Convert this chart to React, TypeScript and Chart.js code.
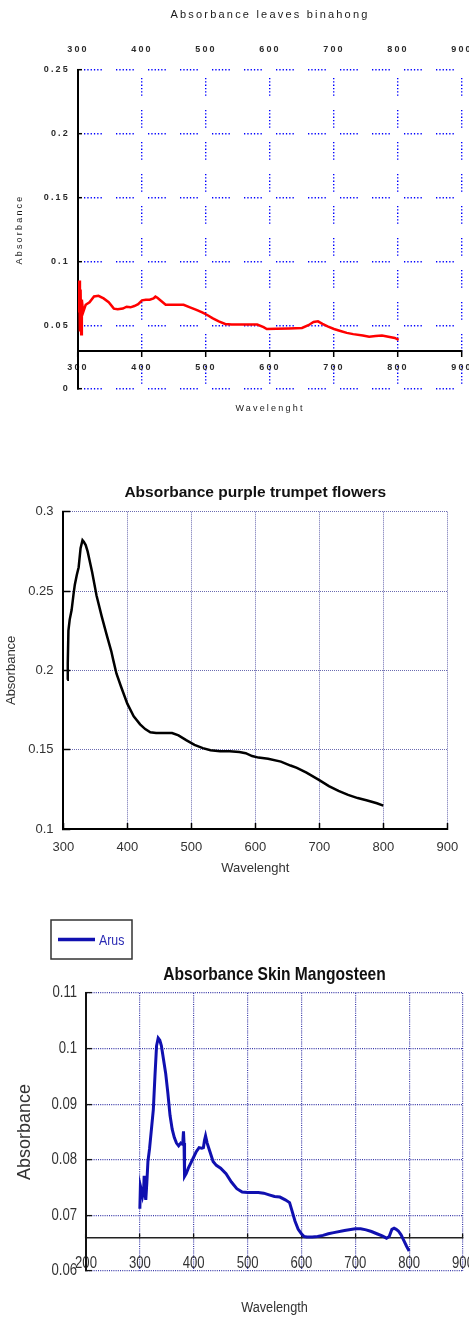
import React, { useEffect, useRef } from "react";
import { Chart, registerables } from "chart.js";

Chart.register(...registerables);

// ---------- Chart 1: Absorbance leaves binahong ----------
const BINAHONG_TITLE = "Absorbance leaves binahong";
const BINAHONG_WL = [301, 302, 303, 304, 305, 306, 308, 312, 318, 325, 332, 340, 348, 356, 362, 370, 376, 382, 388, 394, 400, 406, 412, 418, 421, 424, 430, 437, 450, 465, 475, 485, 494, 502, 510, 520, 530, 540, 560, 580, 590, 595, 610, 630, 650, 660, 668, 675, 682, 690, 700, 710, 720, 730, 745, 755, 765, 775, 785, 795, 801];
const BINAHONG_ABS = [0.06, 0.085, 0.045, 0.078, 0.043, 0.07, 0.06, 0.066, 0.068, 0.0725, 0.073, 0.071, 0.068, 0.063, 0.0625, 0.063, 0.0645, 0.064, 0.065, 0.0665, 0.0695, 0.07, 0.07, 0.071, 0.0725, 0.0715, 0.069, 0.066, 0.066, 0.066, 0.064, 0.062, 0.06, 0.058, 0.0555, 0.053, 0.051, 0.0505, 0.0505, 0.0505, 0.0485, 0.047, 0.0472, 0.0475, 0.0478, 0.05, 0.0525, 0.053, 0.051, 0.049, 0.047, 0.0455, 0.044, 0.043, 0.042, 0.041, 0.0415, 0.042, 0.041, 0.04, 0.0385];
const BINAHONG_X_TICKS = [300, 400, 500, 600, 700, 800, 900];
const BINAHONG_Y_TICKS = [0, 0.05, 0.1, 0.15, 0.2, 0.25];

// ---------- Chart 2: Absorbance purple trumpet flowers ----------
const TRUMPET_TITLE = "Absorbance purple trumpet flowers";
const TRUMPET_WL = [306, 307, 308, 310, 313, 316, 318, 321, 324, 327, 330, 332, 335, 338, 345, 352, 360, 368, 375, 378, 383, 390, 400, 410, 420, 428, 436, 445, 455, 470, 480, 492, 505, 518, 530, 545, 560, 575, 585, 595, 605, 620, 640, 655, 665, 680, 700, 715, 730, 745, 760, 775, 790, 800];
const TRUMPET_ABS = [0.194, 0.205, 0.225, 0.232, 0.238, 0.248, 0.254, 0.26, 0.265, 0.277, 0.282, 0.281, 0.279, 0.275, 0.262, 0.247, 0.234, 0.222, 0.212, 0.2066, 0.198, 0.19, 0.179, 0.171, 0.166, 0.163, 0.161, 0.1605, 0.1605, 0.1605, 0.159, 0.156, 0.153, 0.151, 0.1497, 0.149, 0.149, 0.1485, 0.1478, 0.146, 0.145, 0.1443, 0.1425, 0.14, 0.1385, 0.1355, 0.1308, 0.127, 0.124, 0.1215, 0.1195, 0.118, 0.1162, 0.1147];
const TRUMPET_X_TICKS = [300, 400, 500, 600, 700, 800, 900];
const TRUMPET_Y_TICKS = [0.1, 0.15, 0.2, 0.25, 0.3];

// ---------- Chart 3: Absorbance Skin Mangosteen ----------
const MANGO_TITLE = "Absorbance Skin Mangosteen";
const MANGO_LABEL = "Arus";
const MANGO_WL = [300, 301, 303, 305, 307, 308, 310, 311, 313, 315, 318, 322, 325, 328, 331, 334, 337, 340, 344, 348, 352, 356, 360, 364, 368, 372, 376, 379, 380, 381, 382, 383, 386, 390, 395, 400, 405, 410, 415, 418, 420, 422, 425, 430, 436, 442, 450, 460, 470, 480, 490, 500, 510, 520, 530, 540, 550, 560, 570, 578, 582, 588, 594, 600, 605, 610, 620, 630, 640, 650, 660, 680, 700, 710, 720, 730, 740, 750, 758, 763, 768, 772, 776, 780, 785, 790, 795, 800];
const MANGO_ABS = [0.0712, 0.0753, 0.0745, 0.0735, 0.0745, 0.0771, 0.0735, 0.0728, 0.076, 0.0797, 0.082, 0.086, 0.089, 0.095, 0.1005, 0.1019, 0.1015, 0.1005, 0.098, 0.0955, 0.092, 0.088, 0.0855, 0.084, 0.083, 0.0825, 0.083, 0.0828, 0.0835, 0.0851, 0.083, 0.077, 0.0775, 0.0785, 0.0795, 0.0805, 0.0815, 0.0822, 0.0821, 0.0822, 0.0835, 0.0843, 0.083, 0.0815, 0.0797, 0.079, 0.0785, 0.0775, 0.076, 0.0748, 0.0742, 0.0741, 0.0741, 0.0741, 0.074, 0.0737, 0.0734, 0.0733, 0.0728, 0.0723, 0.071, 0.069, 0.0675, 0.0667, 0.0662, 0.0661, 0.0661, 0.0662, 0.0664, 0.0667, 0.0669, 0.0673, 0.0676, 0.0676, 0.0674, 0.0671, 0.0667, 0.0663, 0.0659, 0.0662, 0.0675, 0.0677, 0.0675, 0.0672, 0.0665, 0.0655, 0.0645, 0.0636];
const MANGO_X_TICKS = [200, 300, 400, 500, 600, 700, 800, 900];
const MANGO_Y_TICKS = [0.06, 0.07, 0.08, 0.09, 0.1, 0.11];

// ---------- styles ----------
const SANS = "'Liberation Sans', Arial, sans-serif";
const DASH_BROKEN = [1.3, 2, 1.3, 2, 1.3, 2, 1.3, 2, 1.3, 2, 1.3, 14.2];

const toPoints = (xs: number[], ys: number[]) => xs.map((x, i) => ({ x, y: ys[i] }));
const setTicks = (vals: number[]) => (s: any) => {
  s.ticks = vals.map((v) => ({ value: v }));
};
const fmt = (v: any) => String(Number(v));
const fixSize = (w: number | null, h: number | null) => (s: any) => {
  if (w !== null) s.width = w;
  if (h !== null) s.height = h;
  s.paddingLeft = 0;
  s.paddingRight = 0;
  s.paddingTop = 0;
  s.paddingBottom = 0;
};

// letter spacing for the first (bitmap-like) chart
const spacingPlugin = {
  id: "spacing",
  beforeDraw(chart: any, _a: any, opts: any) {
    chart.ctx.letterSpacing = opts.value || "0px";
  },
  afterDraw(chart: any) {
    chart.ctx.letterSpacing = "0px";
  },
};

// horizontally condensed text (narrow face look) for the third chart; rotated text is left untouched
const condensePlugin = {
  id: "condense",
  beforeDraw(chart: any, _a: any, opts: any) {
    const ctx = chart.ctx;
    const proto = Object.getPrototypeOf(ctx);
    const orig = proto.fillText;
    const k = opts.factor || 0.82;
    ctx.fillText = function (text: string, x: number, y: number, maxW?: number) {
      const t = this.getTransform();
      if (Math.abs(t.b) > 1e-6 || Math.abs(t.c) > 1e-6) {
        return maxW === undefined ? orig.call(this, text, x, y) : orig.call(this, text, x, y, maxW);
      }
      this.save();
      this.translate(x, y);
      this.scale(k, 1);
      if (maxW === undefined) orig.call(this, text, 0, 0);
      else orig.call(this, text, 0, 0, maxW / k);
      this.restore();
    };
  },
  afterDraw(chart: any) {
    delete chart.ctx.fillText;
  },
};

const boxLegendPlugin = {
  id: "boxLegend",
  afterDraw(chart: any, _a: any, o: any) {
    const ctx = chart.ctx;
    const ds = chart.data.datasets[0];
    ctx.save();
    ctx.fillStyle = "#ffffff";
    ctx.fillRect(o.x, o.y, o.w, o.h);
    ctx.strokeStyle = "#333333";
    ctx.lineWidth = 1.5;
    ctx.strokeRect(o.x, o.y, o.w, o.h);
    ctx.strokeStyle = ds.borderColor;
    ctx.lineWidth = 3.5;
    ctx.beginPath();
    ctx.moveTo(o.x + 7, o.y + o.h / 2);
    ctx.lineTo(o.x + 44, o.y + o.h / 2);
    ctx.stroke();
    ctx.fillStyle = o.color;
    ctx.font = o.font;
    ctx.textBaseline = "middle";
    ctx.textAlign = "left";
    ctx.fillText(ds.label, o.x + 48, o.y + o.h / 2 + 1);
    ctx.restore();
  },
};

function binahongConfig(): any {
  const tickFont = { family: SANS, size: 9, weight: "bold" };
  const textColor = "#2a2a2a";
  return {
    type: "line",
    data: {
      datasets: [
        {
          label: "Absorbance",
          data: toPoints(BINAHONG_WL, BINAHONG_ABS),
          borderColor: "#ff0000",
          backgroundColor: "#ff0000",
          borderWidth: 2.5,
          pointRadius: 0,
          tension: 0,
        },
      ],
    },
    plugins: [spacingPlugin],
    options: {
      animation: false,
      responsive: false,
      events: [],
      layout: { padding: { top: 0, right: 7, bottom: 41, left: 0 } },
      plugins: {
        spacing: { value: "2.2px" },
        legend: { display: false },
        tooltip: { enabled: false },
        title: {
          display: true,
          text: BINAHONG_TITLE,
          fullSize: false,
          color: "#1a1a1a",
          font: { family: SANS, size: 11, weight: "normal", lineHeight: 1 },
          padding: { top: 9.5, bottom: 5 },
        },
      },
      scales: {
        x: {
          type: "linear",
          axis: "x",
          position: { y: 0.03 },
          min: 300,
          max: 900,
          afterBuildTicks: setTicks(BINAHONG_X_TICKS),
          afterFit: fixSize(null, 70),
          ticks: { autoSkip: false, maxRotation: 0, padding: 6.6, color: textColor, font: tickFont, callback: fmt },
          grid: { color: "#0000ff", lineWidth: 1.4, tickLength: 5, tickColor: "#000000", tickWidth: 1.5, tickBorderDash: [] },
          border: { display: true, color: "#000000", width: 2, dash: DASH_BROKEN, dashOffset: 24 },
          title: { display: true, text: "Wavelenght", color: "#1a1a1a", font: { family: SANS, size: 9, lineHeight: 1 }, padding: { top: 0, bottom: 8.2 } },
        },
        x2: {
          type: "linear",
          axis: "x",
          position: "top",
          min: 300,
          max: 900,
          afterBuildTicks: setTicks(BINAHONG_X_TICKS),
          afterFit: fixSize(null, 44.5),
          ticks: { autoSkip: false, maxRotation: 0, padding: 14.6, color: textColor, font: tickFont, callback: fmt },
          grid: { display: false, drawTicks: false },
          border: { display: false },
        },
        y: {
          type: "linear",
          position: "left",
          min: 0,
          max: 0.25,
          afterBuildTicks: setTicks(BINAHONG_Y_TICKS),
          afterFit: fixSize(78, null),
          ticks: { padding: 12, color: textColor, font: tickFont, callback: fmt },
          grid: { color: "#0000ff", lineWidth: 1.4, tickLength: -4, tickColor: "#000000", tickWidth: 1.5, tickBorderDash: [] },
          border: { display: true, color: "#000000", width: 2, dash: DASH_BROKEN, dashOffset: 27 },
          title: { display: true, text: "Absorbance", color: "#1a1a1a", font: { family: SANS, size: 9, lineHeight: 1 }, padding: { top: 15.5, bottom: 0 } },
        },
      },
    },
  };
}

function trumpetConfig(): any {
  const tickFont = { family: SANS, size: 13 };
  const gridColor = "#6a6ab0";
  return {
    type: "line",
    data: {
      datasets: [
        {
          label: "Absorbance",
          data: toPoints(TRUMPET_WL, TRUMPET_ABS),
          borderColor: "#000000",
          backgroundColor: "#000000",
          borderWidth: 2.5,
          pointRadius: 0,
          tension: 0,
        },
      ],
    },
    options: {
      animation: false,
      responsive: false,
      events: [],
      layout: { padding: { top: 0, right: 21.7, bottom: 0, left: 0 } },
      plugins: {
        legend: { display: false },
        tooltip: { enabled: false },
        title: {
          display: true,
          text: TRUMPET_TITLE,
          fullSize: false,
          color: "#111111",
          font: { family: SANS, size: 15.5, weight: "bold", lineHeight: 1 },
          padding: { top: 19.5, bottom: 11.7 },
        },
      },
      scales: {
        x: {
          type: "linear",
          position: "bottom",
          min: 300,
          max: 900,
          afterBuildTicks: setTicks(TRUMPET_X_TICKS),
          afterFit: fixSize(null, 56),
          ticks: { autoSkip: false, maxRotation: 0, padding: 16.2, color: "#333333", font: tickFont, callback: fmt },
          grid: { color: gridColor, lineWidth: 1, tickLength: -6, tickColor: "#000000", tickWidth: 1.5, tickBorderDash: [] },
          border: { display: true, color: "#000000", width: 2, dash: [1, 1] },
          title: { display: true, text: "Wavelenght", color: "#333333", font: { family: SANS, size: 13, lineHeight: 1 }, padding: { top: 0, bottom: 10.5 } },
        },
        y: {
          type: "linear",
          position: "left",
          min: 0.1,
          max: 0.3,
          afterBuildTicks: setTicks(TRUMPET_Y_TICKS),
          afterFit: fixSize(63.3, null),
          ticks: { padding: 16.8, color: "#333333", font: tickFont, callback: fmt },
          grid: { color: gridColor, lineWidth: 1, tickLength: -7, tickColor: "#000000", tickWidth: 1.5, tickBorderDash: [] },
          border: { display: true, color: "#000000", width: 2, dash: [1, 1] },
          title: { display: true, text: "Absorbance", color: "#333333", font: { family: SANS, size: 13, lineHeight: 1 }, padding: { top: 4.5, bottom: 0 } },
        },
      },
    },
  };
}

function mangoConfig(): any {
  const tickFont = { family: SANS, size: 16 };
  const gridColor = "#3a3aa8";
  return {
    type: "line",
    data: {
      datasets: [
        {
          label: MANGO_LABEL,
          data: toPoints(MANGO_WL, MANGO_ABS),
          borderColor: "#1010b0",
          backgroundColor: "#1010b0",
          borderWidth: 3,
          pointRadius: 0,
          tension: 0,
        },
      ],
    },
    plugins: [boxLegendPlugin, condensePlugin],
    options: {
      animation: false,
      responsive: false,
      events: [],
      layout: { padding: { top: 0, right: 6, bottom: 49, left: 0 } },
      plugins: {
        condense: { factor: 0.82 },
        boxLegend: { x: 51, y: 15, w: 81, h: 39, color: "#2a2ab4", font: "15px " + SANS },
        legend: { display: false },
        tooltip: { enabled: false },
        title: {
          display: true,
          text: MANGO_TITLE,
          fullSize: false,
          color: "#111111",
          font: { family: SANS, size: 19, weight: "bold", lineHeight: 1 },
          padding: { top: 60.5, bottom: 8.5 },
        },
      },
      scales: {
        x: {
          type: "linear",
          axis: "x",
          position: { y: 0.066 },
          min: 200,
          max: 900,
          afterBuildTicks: setTicks(MANGO_X_TICKS),
          afterFit: fixSize(null, 80),
          ticks: { autoSkip: false, maxRotation: 0, padding: 21.3, color: "#333333", font: tickFont, callback: fmt },
          grid: { color: gridColor, lineWidth: 1.2, tickLength: -5, tickColor: "#111111", tickWidth: 1.3, tickBorderDash: [] },
          border: { display: true, color: "#222222", width: 1.5, dash: [1, 1.2] },
          title: { display: true, text: "Wavelength", color: "#333333", font: { family: SANS, size: 15.5, lineHeight: 1 }, padding: { top: 0, bottom: 1.85 } },
        },
        y: {
          type: "linear",
          position: "left",
          min: 0.06,
          max: 0.11,
          afterBuildTicks: setTicks(MANGO_Y_TICKS),
          afterFit: fixSize(86, null),
          ticks: { padding: 15, color: "#333333", font: tickFont, callback: fmt },
          grid: { color: gridColor, lineWidth: 1.2, tickLength: -6, tickColor: "#111111", tickWidth: 1.3, tickBorderDash: [] },
          border: { display: true, color: "#111111", width: 2, dash: [1, 1.2] },
          title: { display: true, text: "Absorbance", color: "#333333", font: { family: SANS, size: 18, lineHeight: 1 }, padding: { top: 16, bottom: 0 } },
        },
      },
    },
  };
}

export default function App() {
  const r1 = useRef<HTMLCanvasElement>(null);
  const r2 = useRef<HTMLCanvasElement>(null);
  const r3 = useRef<HTMLCanvasElement>(null);

  useEffect(() => {
    const c1 = new Chart(r1.current as HTMLCanvasElement, binahongConfig());
    const c2 = new Chart(r2.current as HTMLCanvasElement, trumpetConfig());
    const c3 = new Chart(r3.current as HTMLCanvasElement, mangoConfig());
    return () => {
      c1.destroy();
      c2.destroy();
      c3.destroy();
    };
  }, []);

  const box = (top: number, height: number): React.CSSProperties => ({
    position: "absolute",
    left: 0,
    top,
    width: 469,
    height,
  });

  return (
    <div style={{ position: "absolute", left: 0, top: 0, width: 469, height: 1320, background: "#ffffff" }}>
      <div style={box(0, 430)}>
        <canvas ref={r1} width={469} height={430} style={{ display: "block" }} />
      </div>
      <div style={box(465, 420)}>
        <canvas ref={r2} width={469} height={420} style={{ display: "block" }} />
      </div>
      <div style={box(905, 415)}>
        <canvas ref={r3} width={469} height={415} style={{ display: "block" }} />
      </div>
    </div>
  );
}
